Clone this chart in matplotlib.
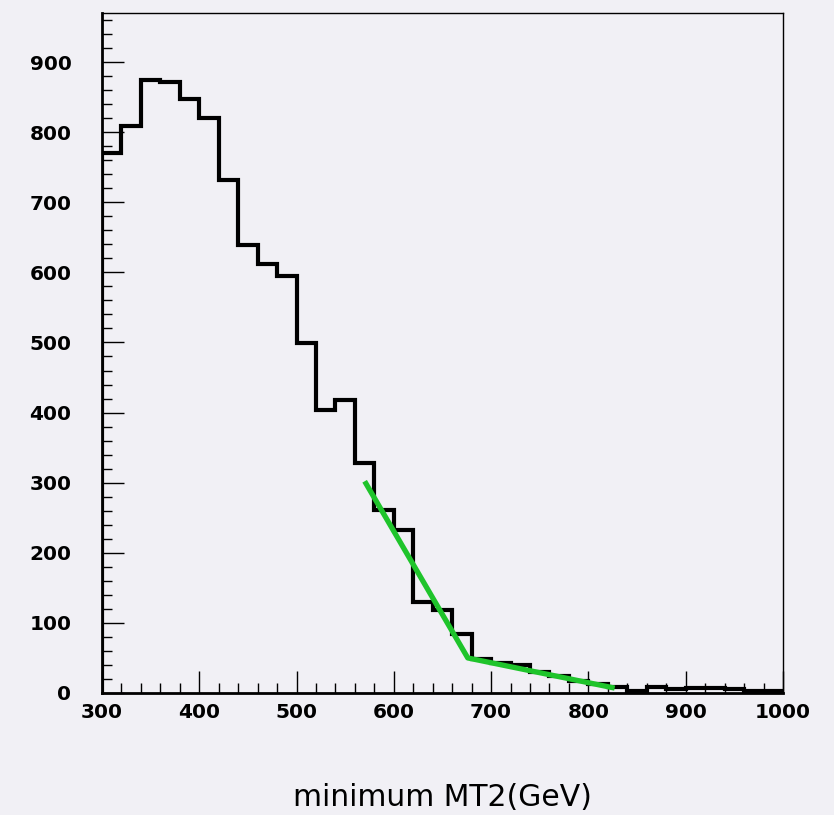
import numpy as np
import matplotlib.pyplot as plt
from matplotlib.ticker import MultipleLocator

# Histogram of minimum MT2, 20 GeV bins from 300 to 1000
bin_edges = np.arange(300, 1001, 20)
counts = [770, 809, 874, 871, 847, 820, 732, 639, 612, 595,
          499, 404, 418, 328, 261, 233, 130, 118, 84, 49,
          43, 40, 30, 24, 17, 13, 9, 3, 9, 5,
          7, 7, 5, 3, 3]

# fitted tail (green)
fit_x = [570, 676, 827]
fit_y = [302, 50, 7]

bg = '#f1f0f5'
fig = plt.figure(figsize=(8.34, 8.15), dpi=100, facecolor=bg)
ax = fig.add_axes([0.1223, 0.1497, 0.8165, 0.8344], facecolor=bg)

ax.stairs(counts, bin_edges, color='black', linewidth=3)
ax.plot(fit_x, fit_y, color='#1fc42b', linewidth=3.8, solid_capstyle='butt')

ax.set_xlim(300, 1000)
ax.set_ylim(0, 970)

ax.xaxis.set_major_locator(MultipleLocator(100))
ax.xaxis.set_minor_locator(MultipleLocator(20))
ax.yaxis.set_major_locator(MultipleLocator(100))
ax.yaxis.set_minor_locator(MultipleLocator(20))
ax.tick_params(which='both', direction='in', top=False, right=False,
               width=1, labelsize=14.5)
ax.tick_params(which='major', length=16)
ax.tick_params(which='minor', length=7.5)
ax.tick_params(axis='x', pad=7)
ax.tick_params(axis='y', pad=22)
for lab in ax.get_xticklabels() + ax.get_yticklabels():
    lab.set_fontweight('bold')

for sp in ax.spines.values():
    sp.set_linewidth(1)
ax.spines['left'].set_linewidth(2)
ax.spines['bottom'].set_linewidth(2)

ax.set_xlabel('minimum MT2(GeV)', fontsize=21.5, labelpad=44)

fig.savefig('out.png', dpi=100, facecolor=bg)
